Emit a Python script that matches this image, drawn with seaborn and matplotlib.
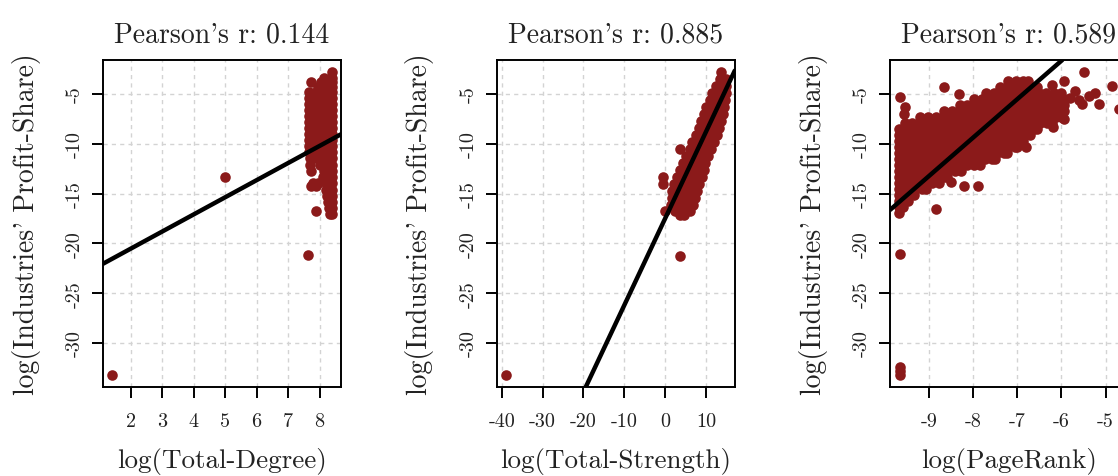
import matplotlib
matplotlib.use("Agg")
import matplotlib.pyplot as plt
import seaborn as sns

# ---------------- data ----------------
titles = ["Pearson's r: 0.144", "Pearson's r: 0.885", "Pearson's r: 0.589"]
x_labels = ["log(Total-Degree)", "log(Total-Strength)", "log(PageRank)"]
y_label = "log(Industries' Profit-Share)"

y_ticks = [-5, -10, -15, -20, -25, -30]
deg_ticks = [2, 3, 4, 5, 6, 7, 8]
str_ticks = [-40, -30, -20, -10, 0, 10]
pr_ticks = [-9, -8, -7, -6, -5]

fit_slopes = [1.72, 0.87, 3.86]
fit_intercepts = [-23.97, -17.5, 21.5]

# rows of points: (y value, list of x values)
deg_rows = [
    (-2.8, [8.40]),
    (-3.35, [8.15, 8.39]),
    (-3.77, [7.73, 8.05, 8.25, 8.39]),
    (-4.3, [7.95, 8.12, 8.28, 8.39]),
    (-4.8, [7.66, 7.90, 8.15, 8.39]),
    (-5.4, [7.66, 7.78, 8.02, 8.27, 8.39]),
    (-6.0, [7.66, 7.90, 8.15, 8.39]),
    (-6.6, [7.66, 7.78, 8.02, 8.27, 8.39]),
    (-7.2, [7.66, 7.90, 8.15, 8.39]),
    (-7.8, [7.66, 7.78, 8.02, 8.27, 8.39]),
    (-8.4, [7.66, 7.90, 8.15, 8.39]),
    (-9.0, [7.66, 7.78, 8.02, 8.27, 8.39]),
    (-9.6, [7.66, 7.90, 8.15, 8.39]),
    (-10.2, [7.66, 7.78, 8.02, 8.27, 8.39]),
    (-10.8, [7.66, 7.90, 8.15, 8.39]),
    (-11.4, [7.68, 7.85, 8.02, 8.27, 8.39]),
    (-12.1, [7.68, 8.00, 8.20, 8.39]),
    (-12.7, [7.72, 8.15, 8.30, 8.39]),
    (-13.3, [8.12, 8.28, 8.39]),
    (-13.9, [7.80, 7.95, 8.20, 8.39]),
    (-14.2, [7.73, 7.88]),
    (-14.6, [8.20, 8.39]),
    (-15.2, [8.25, 8.39]),
    (-15.8, [8.28, 8.39]),
    (-16.4, [8.30, 8.39]),
    (-16.7, [7.89]),
    (-17.0, [8.32, 8.39]),
    (-13.3, [5.01]),
    (-21.2, [7.63]),
    (-33.2, [1.40]),
]

str_rows = [
    (-2.8, [13.8]),
    (-3.5, [13.4, 14.9]),
    (-4.2, [12.5, 13.8, 14.9]),
    (-4.9, [11.5, 12.8, 14.1, 14.9]),
    (-5.6, [11.0, 12.2, 13.4, 14.6]),
    (-6.3, [10.0, 11.3, 12.6, 13.9, 14.5]),
    (-7.0, [9.5, 10.7, 12.0, 13.2, 14.1]),
    (-7.7, [8.8, 10.1, 11.4, 12.7, 13.6]),
    (-8.4, [8.2, 9.5, 10.8, 12.1, 13.2]),
    (-9.1, [7.5, 8.8, 10.1, 11.4, 12.7]),
    (-9.8, [6.7, 8.0, 9.3, 10.6, 12.0]),
    (-10.5, [3.6, 6.0, 7.3, 8.6, 9.9, 11.3]),
    (-11.2, [5.2, 6.5, 7.8, 9.1, 10.6]),
    (-11.9, [4.5, 5.8, 7.1, 8.4, 9.8]),
    (-12.6, [3.6, 4.9, 6.2, 7.5, 8.8, 9.5]),
    (-13.3, [-0.6, 2.8, 4.1, 5.4, 6.7, 8.0, 9.0]),
    (-14.0, [-0.6, 2.2, 3.5, 4.8, 6.1, 7.4, 8.2]),
    (-14.7, [1.7, 3.0, 4.3, 5.6, 6.9, 7.8]),
    (-15.4, [1.7, 3.0, 4.3, 5.6, 6.9, 7.4]),
    (-16.1, [1.5, 2.8, 4.1, 5.4, 6.8]),
    (-16.7, [0.06, 2.5, 3.8, 5.1, 6.2]),
    (-17.1, [3.6, 4.6]),
    (-21.3, [3.63]),
    (-33.2, [-39.1]),
]

pr_rows = [
    (-3.7, [-7.20, -7.03, -6.86, -6.75]),
    (-4.3, [-7.40, -7.23, -7.06, -6.89, -6.72, -6.55]),
    (-4.9, [-7.70, -7.53, -7.36, -7.19, -7.02, -6.85, -6.68, -6.51, -6.34, -6.17,
            -6.00]),
    (-5.5, [-7.97, -7.80, -7.63, -7.46, -7.29, -7.12, -6.95, -6.78, -6.61, -6.44,
            -6.27, -6.10, -5.95]),
    (-6.1, [-8.30, -8.13, -7.96, -7.79, -7.62, -7.45, -7.28, -7.11, -6.94, -6.77,
            -6.60, -6.43, -6.26, -6.09, -5.95]),
    (-6.7, [-8.65, -8.48, -8.31, -8.14, -7.97, -7.80, -7.63, -7.46, -7.29, -7.12,
            -6.95, -6.78, -6.61, -6.44, -6.27, -6.10, -5.95]),
    (-7.3, [-9.19, -9.02, -8.85, -8.68, -8.51, -8.34, -8.17, -8.00, -7.83, -7.66,
            -7.49, -7.32, -7.15, -6.98, -6.81, -6.64, -6.47, -6.30, -6.13, -6.00]),
    (-7.9, [-9.55, -9.38, -9.21, -9.04, -8.87, -8.70, -8.53, -8.36, -8.19, -8.02,
            -7.85, -7.68, -7.51, -7.34, -7.17, -7.00, -6.83, -6.66, -6.49, -6.32, -6.22]),
    (-8.5, [-9.67, -9.50, -9.33, -9.16, -8.99, -8.82, -8.65, -8.48, -8.31, -8.14,
            -7.97, -7.80, -7.63, -7.46, -7.29, -7.12, -6.95, -6.78, -6.61, -6.55]),
    (-9.1, [-9.68, -9.60, -9.43, -9.26, -9.09, -8.92, -8.75, -8.58, -8.41, -8.24,
            -8.07, -7.90, -7.73, -7.56, -7.39, -7.22, -7.05, -6.88, -6.72]),
    (-9.7, [-9.67, -9.50, -9.33, -9.16, -8.99, -8.82, -8.65, -8.48, -8.31, -8.14,
            -7.97, -7.80, -7.63, -7.46, -7.29, -7.12, -6.95, -6.87]),
    (-10.3, [-9.68, -9.60, -9.43, -9.26, -9.09, -8.92, -8.75, -8.58, -8.41, -8.24,
             -8.07, -7.90, -7.73, -7.56, -7.39, -7.22, -7.05, -7.00]),
    (-10.9, [-9.67, -9.50, -9.33, -9.16, -8.99, -8.82, -8.65, -8.48, -8.31, -8.14,
             -7.97, -7.80, -7.63, -7.46, -7.29, -7.23]),
    (-11.5, [-9.68, -9.60, -9.43, -9.26, -9.09, -8.92, -8.75, -8.58, -8.41, -8.24,
             -8.07, -7.90, -7.73, -7.56, -7.50]),
    (-12.1, [-9.67, -9.50, -9.33, -9.16, -8.99, -8.82, -8.65, -8.48, -8.31, -8.14,
             -7.97, -7.84]),
    (-12.7, [-9.68, -9.60, -9.43, -9.26, -9.09, -8.92, -8.75, -8.58, -8.41, -8.27]),
    (-13.3, [-9.67, -9.50, -9.33, -9.16, -8.99, -8.82, -8.65, -8.58]),
    (-13.9, [-9.68, -9.60, -9.43, -9.26, -9.09, -8.92, -8.78]),
    (-14.5, [-9.67, -9.50, -9.33, -9.16, -9.07]),
    (-15.1, [-9.68, -9.60, -9.45, -9.33]),
    (-15.7, [-9.67, -9.55, -9.47]),
    (-16.3, [-9.67, -9.58]),
    (-16.9, [-9.67]),
]

pr_extra_x = [-9.65, -9.53, -9.57, -8.66, -8.31, -5.49, -5.95, -6.22, -5.69, -5.53,
              -5.15, -5.38, -5.23, -4.85, -4.69, -5.80, -5.60, -6.79, -8.50, -8.20,
              -7.89, -8.85, -9.65, -9.65, -9.65, -9.65, -6.18, -5.95]
pr_extra_y = [-5.33, -6.34, -7.00, -4.33, -5.00, -2.80, -3.67, -4.07, -4.67, -6.00,
              -6.00, -5.17, -4.93, -4.17, -6.50, -5.40, -5.60, -10.28, -13.86, -14.20,
              -14.20, -16.53, -21.05, -32.40, -32.80, -33.20, -8.35, -7.50]

RED = "#8B1A1A"
TXT = "#222222"


def expand(rows):
    xs, ys = [], []
    for yv, xl in rows:
        for xv in xl:
            xs.append(xv)
            ys.append(yv)
    return xs, ys


deg_x, deg_y = expand(deg_rows)
str_x, str_y = expand(str_rows)
pr_x, pr_y = expand(pr_rows)
pr_x += pr_extra_x
pr_y += pr_extra_y

panels = [
    (deg_x, deg_y, deg_ticks),
    (str_x, str_y, str_ticks),
    (pr_x, pr_y, pr_ticks),
]

# ---------------- style ----------------
sns.set_style("white")
plt.rcParams["font.family"] = ["cmr10", "DejaVu Serif"]
plt.rcParams["axes.unicode_minus"] = False
plt.rcParams["axes.formatter.use_mathtext"] = True

fig = plt.figure(figsize=(11.18, 4.77), dpi=100)
lefts = [0.0921, 0.4443, 0.7961]
bottom, width, height = 0.1866, 0.2129, 0.6855

all_y = deg_y + str_y + pr_y
ymin, ymax = min(all_y), max(all_y)
yr = ymax - ymin
ylim = (ymin - 0.04 * yr, ymax + 0.04 * yr)

for i, (xs, ys, xt) in enumerate(panels):
    ax = fig.add_axes([lefts[i], bottom, width, height])
    sns.scatterplot(x=xs, y=ys, ax=ax, color=RED, s=58, linewidth=0,
                    edgecolor=None, zorder=3, legend=False)
    xr = max(xs) - min(xs)
    ax.set_xlim(min(xs) - 0.04 * xr, max(xs) + 0.04 * xr)
    ax.set_ylim(*ylim)
    ax.axline((0, fit_intercepts[i]), slope=fit_slopes[i], color="black",
              lw=3.2, zorder=4)

    ax.set_xticks(xt, [str(v) for v in xt])
    ax.set_yticks(y_ticks, [str(v) for v in y_ticks])
    for lbl in ax.get_yticklabels():
        lbl.set_rotation(90)
        lbl.set_va("center")
    ax.tick_params(axis="both", which="both", direction="out", length=8,
                   width=1.4, color="black", labelsize=14.5, labelcolor=TXT)
    ax.tick_params(axis="x", pad=10, bottom=True, top=False)
    ax.tick_params(axis="y", pad=6, left=True, right=False)

    ax.grid(True, color="#D3D3D3", linestyle=(0, (3, 3)), linewidth=1.0)
    ax.set_axisbelow(True)
    for sp in ax.spines.values():
        sp.set_visible(True)
        sp.set_color("black")
        sp.set_linewidth(1.4)

    ax.set_title(titles[i], fontsize=20, pad=13, color=TXT)
    ax.set_xlabel(x_labels[i], fontsize=19.5, color=TXT, va="top")
    ax.xaxis.set_label_coords(0.5, -0.183)
    ax.set_ylabel(y_label, fontsize=20, color=TXT)
    ax.yaxis.set_label_coords(-0.262, 0.5)

fig.savefig("out.png", dpi=100)
